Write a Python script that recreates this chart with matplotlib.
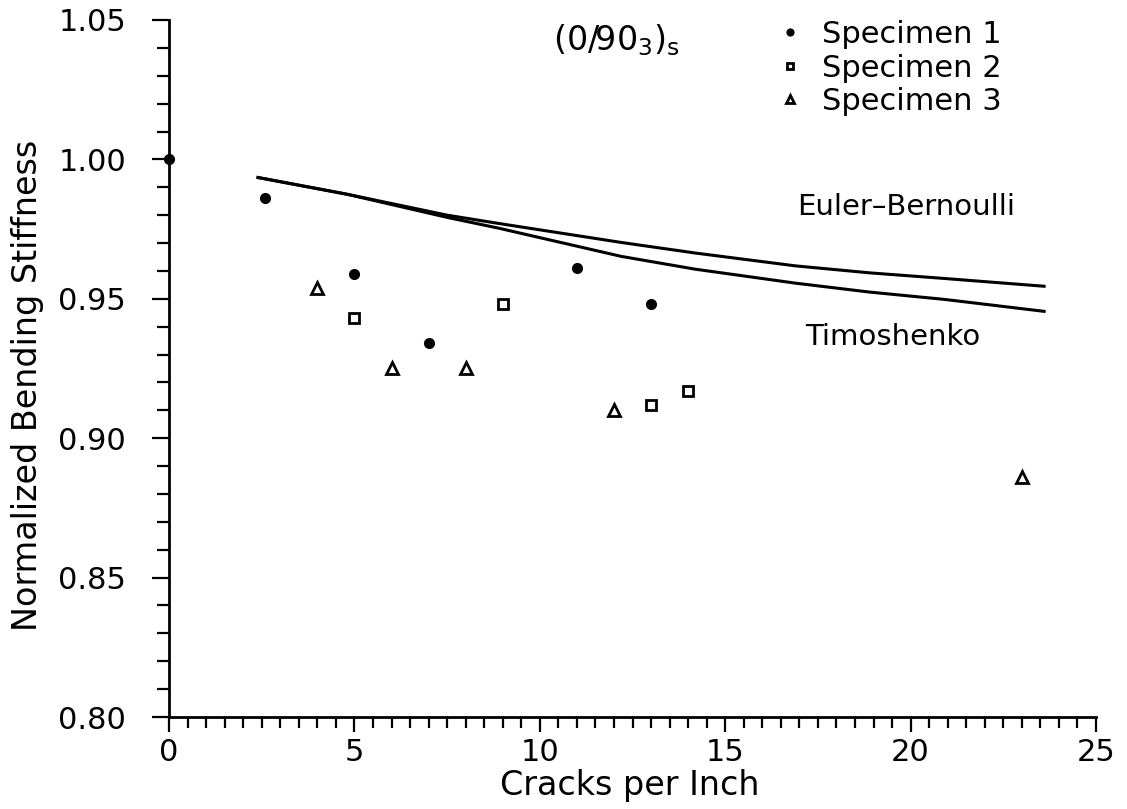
import matplotlib
matplotlib.use("Agg")
import matplotlib.pyplot as plt
from matplotlib.ticker import MultipleLocator, FormatStrFormatter

plt.rcParams['font.family'] = ['DejaVu Sans']
plt.rcParams['mathtext.fontset'] = 'dejavusans'

# Dados medidos (rigidez normalizada x trincas por polegada)
spec1_x = [0, 2.6, 5, 7, 11, 13]
spec1_y = [1.000, 0.986, 0.959, 0.934, 0.961, 0.948]
spec2_x = [5, 9, 13, 14]
spec2_y = [0.943, 0.948, 0.912, 0.917]
spec3_x = [4, 6, 8, 12, 23]
spec3_y = [0.954, 0.925, 0.925, 0.910, 0.886]

# Curvas teóricas
curve_x = [2.4, 4.8, 7.5, 8.9, 12.2, 14.2, 16.9, 18.9, 20.9, 23.6]
euler_y = [0.9935, 0.9875, 0.9800, 0.9770, 0.9702, 0.9664, 0.9618, 0.9593, 0.9573, 0.9545]
timo_y = [0.9935, 0.9875, 0.9792, 0.9753, 0.9652, 0.9606, 0.9556, 0.9524, 0.9498, 0.9455]

fig = plt.figure(figsize=(11.27, 8.09), dpi=100)
ax = fig.add_axes([0.150, 0.1137, 0.8225, 0.8616])

ax.plot(curve_x, euler_y, color="black", linewidth=2.2)
ax.plot(curve_x, timo_y, color="black", linewidth=2.2)

h1, = ax.plot(spec1_x, spec1_y, linestyle="none", marker="o", markersize=7,
              color="black", clip_on=False, label="Specimen 1")
h2, = ax.plot(spec2_x, spec2_y, linestyle="none", marker="s", markersize=7,
              markerfacecolor="white", markeredgecolor="black", markeredgewidth=2,
              clip_on=False, label="Specimen 2")
h3, = ax.plot(spec3_x, spec3_y, linestyle="none", marker="^", markersize=8,
              markerfacecolor="white", markeredgecolor="black", markeredgewidth=2,
              clip_on=False, label="Specimen 3")

ax.set_xlim(0, 25)
ax.set_ylim(0.80, 1.05)
ax.xaxis.set_major_locator(MultipleLocator(5))
ax.xaxis.set_minor_locator(MultipleLocator(0.5))
ax.yaxis.set_major_locator(MultipleLocator(0.05))
ax.yaxis.set_minor_locator(MultipleLocator(0.01))
ax.yaxis.set_major_formatter(FormatStrFormatter("%.2f"))

for s in ["top", "right"]:
    ax.spines[s].set_visible(False)
for s in ["left", "bottom"]:
    ax.spines[s].set_linewidth(2)

ax.tick_params(axis="x", which="major", direction="out", length=11, width=1.6,
               labelsize=22, pad=4)
ax.tick_params(axis="x", which="minor", direction="out", length=8, width=1.6)
ax.tick_params(axis="y", which="major", direction="out", length=12, width=1.6,
               labelsize=22, pad=19)
ax.tick_params(axis="y", which="minor", direction="out", length=8.5, width=1.6)

ax.set_xlabel("Cracks per Inch", fontsize=24)
ax.set_ylabel("Normalized Bending Stiffness", fontsize=24)
ax.xaxis.set_label_coords(0.497, -0.075)
ax.yaxis.set_label_coords(-0.135, 0.476)

fig.text(553 / 1127, 1 - 40 / 809, r"$\mathregular{(0/90_3)_s}$", fontsize=24,
         ha="left", va="center")
fig.text(797 / 1127, 1 - 207 / 809, "Euler–Bernoulli", fontsize=21,
         ha="left", va="center")
fig.text(805 / 1127, 1 - 337 / 809, "Timoshenko", fontsize=21,
         ha="left", va="center")

leg = ax.legend(handles=[h1, h2, h3], loc="upper left",
                bbox_to_anchor=(775 / 1127, 1 - 20 / 809),
                bbox_transform=fig.transFigure, frameon=False, fontsize=22,
                markerscale=0.7, handlelength=1.0, handletextpad=0.55,
                labelspacing=0.15, borderpad=0, borderaxespad=0)

fig.savefig("out.png", dpi=100)
